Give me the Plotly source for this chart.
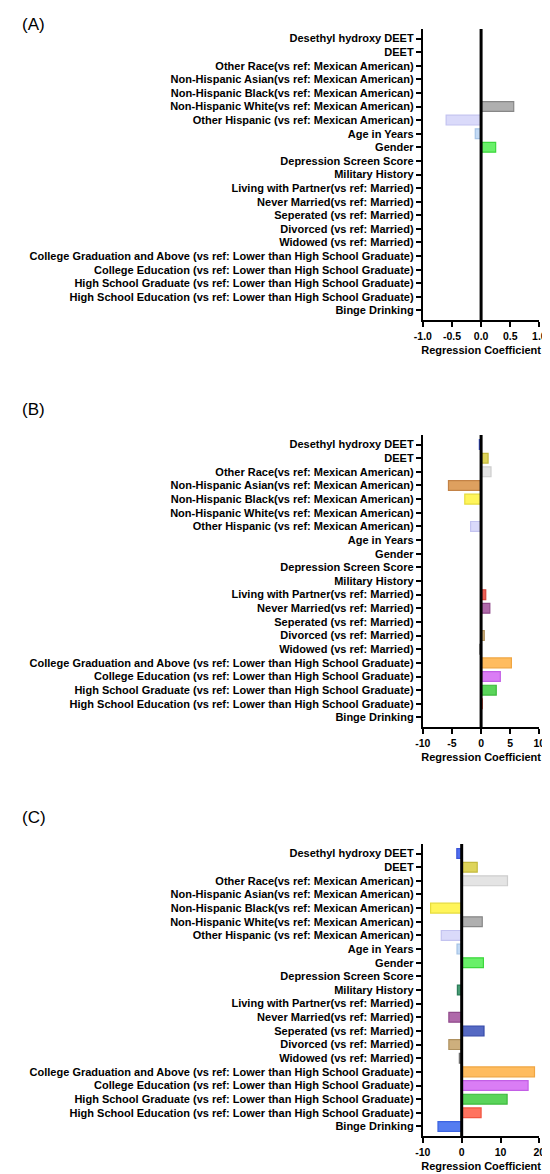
import plotly.graph_objects as go

# Regression coefficients, three models (A, B, C)
categories = [
    "Desethyl hydroxy DEET",
    "DEET",
    "Other Race(vs ref: Mexican American)",
    "Non-Hispanic Asian(vs ref: Mexican American)",
    "Non-Hispanic Black(vs ref: Mexican American)",
    "Non-Hispanic White(vs ref: Mexican American)",
    "Other Hispanic (vs ref: Mexican American)",
    "Age in Years",
    "Gender",
    "Depression Screen Score",
    "Military History",
    "Living with Partner(vs ref: Married)",
    "Never Married(vs ref: Married)",
    "Seperated (vs ref: Married)",
    "Divorced (vs ref: Married)",
    "Widowed (vs ref: Married)",
    "College Graduation and Above (vs ref: Lower than High School Graduate)",
    "College Education (vs ref: Lower than High School Graduate)",
    "High School Graduate (vs ref: Lower than High School Graduate)",
    "High School Education (vs ref: Lower than High School Graduate)",
    "Binge Drinking",
]

coef_a = [0, 0, 0, 0, 0, 0.56, -0.6, -0.1, 0.25, 0, 0, 0, 0, 0, 0, 0, 0, 0, 0, 0, 0]
coef_b = [-0.3, 1.2, 1.7, -5.6, -2.8, 0, -1.8, 0, 0, 0, 0, 0.8, 1.5, 0, 0.55, -0.2,
          5.2, 3.3, 2.6, 0.2, 0]
coef_c = [-1.25, 4.0, 11.8, 0, -8.0, 5.3, -5.25, -1.2, 5.6, 0, -1.1, 0, -3.3, 5.75,
          -3.3, -0.6, 18.75, 17.1, 11.7, 5.0, -6.1]

panel_names = ["(A)", "(B)", "(C)"]
x_ticks = [[-1, -0.5, 0, 0.5, 1], [-10, -5, 0, 5, 10], [-10, 0, 10, 20]]
x_ticklabels = [["-1.0", "-0.5", "0.0", "0.5", "1.0"], ["-10", "-5", "0", "5", "10"],
                ["-10", "0", "10", "20"]]

# one colour per variable, same in every panel
fill_colors = [
    "rgb(80,110,240)", "rgb(222,212,90)", "rgb(228,228,228)", "rgb(222,160,95)",
    "rgb(255,245,90)", "rgb(175,175,175)", "rgb(218,218,250)", "rgb(195,218,245)",
    "rgb(105,240,105)", "rgb(200,200,200)", "rgb(70,155,115)", "rgb(235,95,85)",
    "rgb(175,105,170)", "rgb(85,105,195)", "rgb(205,175,125)", "rgb(140,140,140)",
    "rgb(255,188,95)", "rgb(218,125,245)", "rgb(90,212,90)", "rgb(255,115,95)",
    "rgb(85,125,240)",
]
line_colors = [
    "rgb(60,85,215)", "rgb(195,185,60)", "rgb(205,205,205)", "rgb(195,130,70)",
    "rgb(230,220,60)", "rgb(135,135,135)", "rgb(195,195,240)", "rgb(165,195,230)",
    "rgb(60,215,60)", "rgb(170,170,170)", "rgb(45,125,90)", "rgb(215,70,60)",
    "rgb(145,75,140)", "rgb(55,75,170)", "rgb(175,145,95)", "rgb(110,110,110)",
    "rgb(240,165,65)", "rgb(195,95,230)", "rgb(60,185,60)", "rgb(240,85,65)",
    "rgb(60,100,225)",
]

FONT = "Liberation Sans, Arial, sans-serif"
W, H = 550, 1174
x_dom = [418 / W, 538 / W]
# pixel rows (top, bottom) of each panel's y-axis
y_pix = [(21, 312), (427, 719), (836, 1128)]
label_y = [16, 402, 809]

fig = go.Figure()
for i, vals in enumerate([coef_a, coef_b, coef_c]):
    sfx = "" if i == 0 else str(i + 1)
    fig.add_trace(go.Bar(
        x=vals, y=categories, orientation="h", width=0.72,
        marker=dict(color=fill_colors, line=dict(color=line_colors, width=1.2)),
        xaxis="x" + sfx, yaxis="y" + sfx, showlegend=False,
    ))
    top, bot = y_pix[i]
    fig.update_layout({
        "xaxis" + sfx: dict(
            domain=x_dom, anchor="y" + sfx,
            range=[x_ticks[i][0], x_ticks[i][-1]],
            tickvals=x_ticks[i], ticktext=x_ticklabels[i],
            showline=True, linecolor="black", linewidth=2,
            ticks="outside", ticklen=5, tickwidth=2, tickcolor="black",
            showgrid=False, zeroline=False,
            tickfont=dict(family=FONT, size=10.5, color="black", weight="bold"),
            title=dict(text="Regression Coefficient", standoff=6,
                       font=dict(family=FONT, size=11, color="black", weight="bold")),
        ),
        "yaxis" + sfx: dict(
            domain=[1 - bot / H, 1 - top / H], anchor="x" + sfx,
            type="category", range=[len(categories) - 0.3, -0.7],
            showline=True, linecolor="black", linewidth=2,
            ticks="outside", ticklen=5, tickwidth=1.5, tickcolor="black",
            showgrid=False,
            tickfont=dict(family=FONT, size=11, color="black", weight="bold"),
        ),
    })
    fig.add_shape(type="line", xref="x" + sfx, yref="y" + sfx + " domain",
                  x0=0, x1=0, y0=0, y1=1, layer="above",
                  line=dict(color="black", width=3))
    fig.add_annotation(text=panel_names[i], xref="paper", yref="paper",
                       x=3 / W, y=1 - label_y[i] / H, xanchor="left", yanchor="middle",
                       showarrow=False, font=dict(family=FONT, size=17, color="black"))

fig.update_layout(
    width=W, height=H,
    margin=dict(l=0, r=0, t=0, b=0),
    paper_bgcolor="white", plot_bgcolor="white",
    bargap=0.28,
)

fig.write_html("out.html")
